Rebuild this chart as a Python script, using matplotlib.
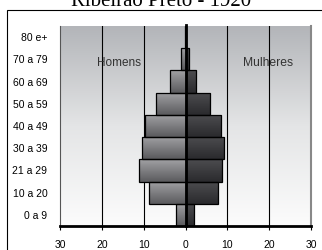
import numpy as np
import matplotlib.pyplot as plt
from matplotlib.colors import LinearSegmentedColormap
from matplotlib.patches import Rectangle

# faixas etarias (de baixo para cima)
faixas = ['0 a 9', '10 a 20', '21 a 29', '30 a 39', '40 a 49',
          '50 a 59', '60 a 69', '70 a 79', '80 e+']
homens = [2.2, 8.7, 11.1, 10.5, 9.6, 7.1, 3.7, 1.1, 0.2]
mulheres = [2.1, 7.7, 8.8, 9.3, 8.6, 5.9, 2.6, 0.8, 0.2]
xticks = [-30, -20, -10, 0, 10, 20, 30]
xlabels = ['30', '20', '10', '0', '10', '20', '30']

plt.rcParams['font.family'] = ['Liberation Sans', 'DejaVu Sans']

fig = plt.figure(figsize=(3.22, 2.5), dpi=100)
ax = fig.add_axes([60 / 322, 24 / 250, 251 / 322, 200 / 250])

# moldura externa
fig.patches.append(Rectangle((7 / 322, -0.1), 1.2, 0.1 + 240 / 250,
                             transform=fig.transFigure, fill=False,
                             edgecolor='black', linewidth=0.8))

y = np.arange(len(faixas))

# fundo em degrade
bg = LinearSegmentedColormap.from_list('bg', ['#fcfcfc', '#e4e5e6', '#b3b5b9'])
grad = np.linspace(0, 1, 256).reshape(-1, 1)
ax.imshow(grad, cmap=bg, aspect='auto', origin='lower',
          extent=[-30, 30, -0.5, len(faixas) - 0.5], zorder=0)

for gx in [-20, -10, 10, 20]:
    ax.axvline(gx, color='black', linewidth=0.8, zorder=1)

cm_h = LinearSegmentedColormap.from_list('h', ['#5a5a5d', '#a2a2a5'])
cm_m = LinearSegmentedColormap.from_list('m', ['#2a2a2d', '#4d4d50'])

bars_h = ax.barh(y, [-v for v in homens], height=1.0, facecolor='none',
                 edgecolor='black', linewidth=0.9, zorder=3)
bars_m = ax.barh(y, mulheres, height=1.0, facecolor='none',
                 edgecolor='black', linewidth=0.9, zorder=3)

for bars, cm in [(bars_h, cm_h), (bars_m, cm_m)]:
    for b in bars:
        x0, y0 = b.get_x(), b.get_y()
        w, h = b.get_width(), b.get_height()
        im = ax.imshow(grad, cmap=cm, aspect='auto', origin='lower',
                       extent=[min(x0, x0 + w), max(x0, x0 + w), y0, y0 + h],
                       zorder=2)
        im.set_clip_path(b)

ax.set_xlim(-30, 30)
ax.set_ylim(-0.5, len(faixas) - 0.5)

ax.plot([0, 0], [-0.5, len(faixas) - 0.45], color='black', linewidth=2,
        zorder=4, clip_on=False)

ax.text(-16, 6.85, 'Homens', fontsize=8.5, color='#333333',
        ha='center', va='center', zorder=5)
ax.text(19.7, 6.85, 'Mulheres', fontsize=8.7, color='#333333',
        ha='center', va='center', zorder=5)

ax.set_yticks(y)
ax.set_yticklabels(faixas, fontsize=7.5)
ax.tick_params(axis='y', length=0, pad=9)
ax.set_xticks(xticks)
ax.set_xticklabels(xlabels, fontsize=7.5)
ax.tick_params(axis='x', length=3, width=0.8, pad=7, direction='out')

ax.spines['top'].set_visible(False)
ax.spines['left'].set_color('#555555')
ax.spines['left'].set_linewidth(0.8)
ax.spines['right'].set_color('#888888')
ax.spines['right'].set_linewidth(1.5)
ax.spines['bottom'].set_linewidth(2)
ax.spines['bottom'].set_zorder(5)

fig.text(161 / 322, 1 - 5.5 / 250, 'Ribeirão Preto - 1920',
         family=['Liberation Serif', 'DejaVu Serif'], fontsize=15,
         ha='center', va='baseline')

fig.savefig('out.png', dpi=100)
